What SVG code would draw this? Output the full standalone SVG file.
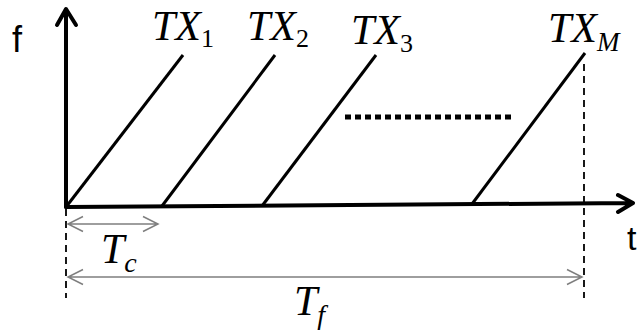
<svg xmlns="http://www.w3.org/2000/svg" width="638" height="334" viewBox="0 0 638 334">
<style>
.axis{stroke:#000;stroke-width:4;fill:none;stroke-linecap:round;stroke-linejoin:round}
.ramp{stroke:#000;stroke-width:3;fill:none}
.dash{stroke:#000;stroke-width:1.8;stroke-dasharray:7,5;fill:none}
.dim{stroke:#7f7f7f;stroke-width:1.5;fill:none}
.dots{stroke:#000;stroke-width:5;stroke-dasharray:6,4;fill:none}
.m{font-family:'Liberation Serif',serif;font-style:italic;fill:#000}
.s{font-family:'Liberation Sans',sans-serif;fill:#000}
</style>
<g id="connectors">
<line class="dash" x1="66" y1="209" x2="66" y2="298"/>
<line class="dash" x1="584" y1="64" x2="584" y2="298"/>
<line class="ramp" x1="66" y1="207" x2="183" y2="55"/>
<line class="ramp" x1="162" y1="206" x2="275" y2="55"/>
<line class="ramp" x1="262" y1="206" x2="376" y2="55"/>
<line class="ramp" x1="472" y1="204" x2="585" y2="53"/>
<line class="dots" x1="345" y1="117" x2="513" y2="117"/>
<path class="axis" d="M66,207 L66,10 M57,25 L66,9 L76,25"/>
<path class="axis" d="M66,207 L632,203 M618,195 L633,203 L618,212"/>
<path class="dim" d="M68,224 L158,224 M83,216.5 L68,224 L83,231.5 M143,216.5 L158,224 L143,231.5"/>
<path class="dim" d="M68,277 L582,277 M83,269.5 L68,277 L83,284.5 M567,269.5 L582,277 L567,284.5"/>
</g>
<g id="axis-labels">
<text class="s" x="12" y="52" font-size="36">f</text>
<text class="s" x="627" y="250" font-size="34">t</text>
</g>
<g id="tx1"><text class="m" x="152" y="40" font-size="42">TX<tspan font-style="normal" font-size="26" dy="7">1</tspan></text></g>
<g id="tx2"><text class="m" x="247" y="40" font-size="42">TX<tspan font-style="normal" font-size="26" dy="7">2</tspan></text></g>
<g id="tx3"><text class="m" x="351" y="44" font-size="42">TX<tspan font-style="normal" font-size="26" dy="8">3</tspan></text></g>
<g id="txm"><text class="m" x="548" y="42" font-size="42">TX<tspan font-size="27" dy="9">M</tspan></text></g>
<g id="tc"><text class="m" x="101" y="263" font-size="42">T<tspan font-size="28" dy="9">c</tspan></text></g>
<g id="tf"><text class="m" x="294" y="315" font-size="42">T<tspan font-size="28" dy="9">f</tspan></text></g>
</svg>
